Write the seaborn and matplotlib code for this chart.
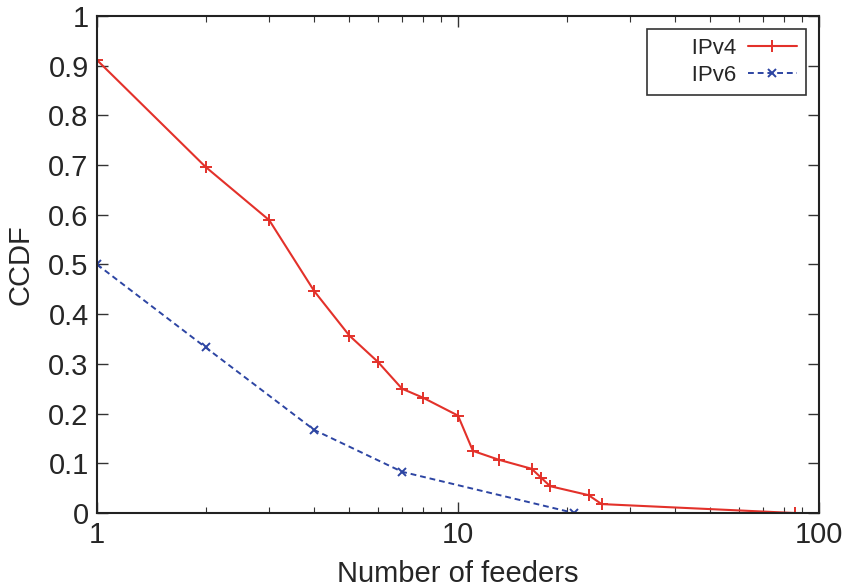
import numpy as np
import pandas as pd
import matplotlib
matplotlib.use("Agg")
import matplotlib.pyplot as plt
from matplotlib.ticker import FixedLocator, FuncFormatter, LogLocator, NullFormatter
import seaborn as sns

# values
v4_feeders = [1, 2, 3, 4, 5, 6, 7, 8, 10, 11, 13, 16, 17, 18, 23, 25, 86]
v4_ccdf = [0.911, 0.696, 0.589, 0.446, 0.357, 0.304, 0.250, 0.232, 0.196,
           0.125, 0.107, 0.089, 0.071, 0.054, 0.036, 0.018, 0.0]
v6_feeders = [1, 2, 4, 7, 21]
v6_ccdf = [0.5, 0.333, 0.167, 0.083, 0.0]

y_ticks = [0, 0.1, 0.2, 0.3, 0.4, 0.5, 0.6, 0.7, 0.8, 0.9, 1]
x_ticks = [1, 10, 100]

sns.set_style("ticks")
plt.rcParams['font.family'] = ['Liberation Sans', 'DejaVu Sans']
plt.rcParams['xtick.direction'] = 'in'
plt.rcParams['ytick.direction'] = 'in'

df4 = pd.DataFrame({"feeders": v4_feeders, "ccdf": v4_ccdf})
df6 = pd.DataFrame({"feeders": v6_feeders, "ccdf": v6_ccdf})

fig = plt.figure(figsize=(8.46, 5.87), dpi=100)
ax = fig.add_axes([0.1147, 0.126, 0.8533, 0.847])

red = '#e3312a'
blue = '#2d45a3'

sns.lineplot(data=df4, x="feeders", y="ccdf", ax=ax, color=red, lw=1.5,
             marker='+', markersize=8, markeredgewidth=1.4,
             markeredgecolor=red, sort=False, label="      IPv4")
sns.lineplot(data=df6, x="feeders", y="ccdf", ax=ax, color=blue, lw=1.4,
             marker='x', markersize=6, markeredgewidth=1.4,
             markeredgecolor=blue, sort=False, label="      IPv6",
             linestyle=(0, (3, 2)))

ax.set_xscale('log')
ax.set_xlim(1, 100)
ax.set_ylim(0, 1)
ax.xaxis.set_major_locator(FixedLocator(x_ticks))
ax.xaxis.set_major_formatter(FuncFormatter(lambda v, p: f"{v:g}"))
ax.xaxis.set_minor_locator(LogLocator(base=10, subs=np.arange(2, 10)))
ax.xaxis.set_minor_formatter(NullFormatter())
ax.yaxis.set_major_locator(FixedLocator(y_ticks))
ax.yaxis.set_major_formatter(FuncFormatter(lambda v, p: f"{v:g}"))

ax.tick_params(which='both', top=True, right=True, labelsize=21, color='#333333')
ax.tick_params(which='major', length=8, width=1, pad=6)
ax.tick_params(which='minor', length=4, width=0.8)
for s in ax.spines.values():
    s.set_linewidth(1.5)
    s.set_color('#222222')

ax.set_xlabel("Number of feeders", fontsize=21, labelpad=8)
ax.set_ylabel("CCDF", fontsize=21, labelpad=10)

leg = ax.legend(loc='upper right', fontsize=16, markerfirst=False,
                fancybox=False, edgecolor='#333333', framealpha=1,
                handlelength=2.2, handletextpad=0.5, borderaxespad=0.6,
                labelspacing=0.25)
leg.get_frame().set_linewidth(1.2)

fig.savefig("out.png", dpi=100)
